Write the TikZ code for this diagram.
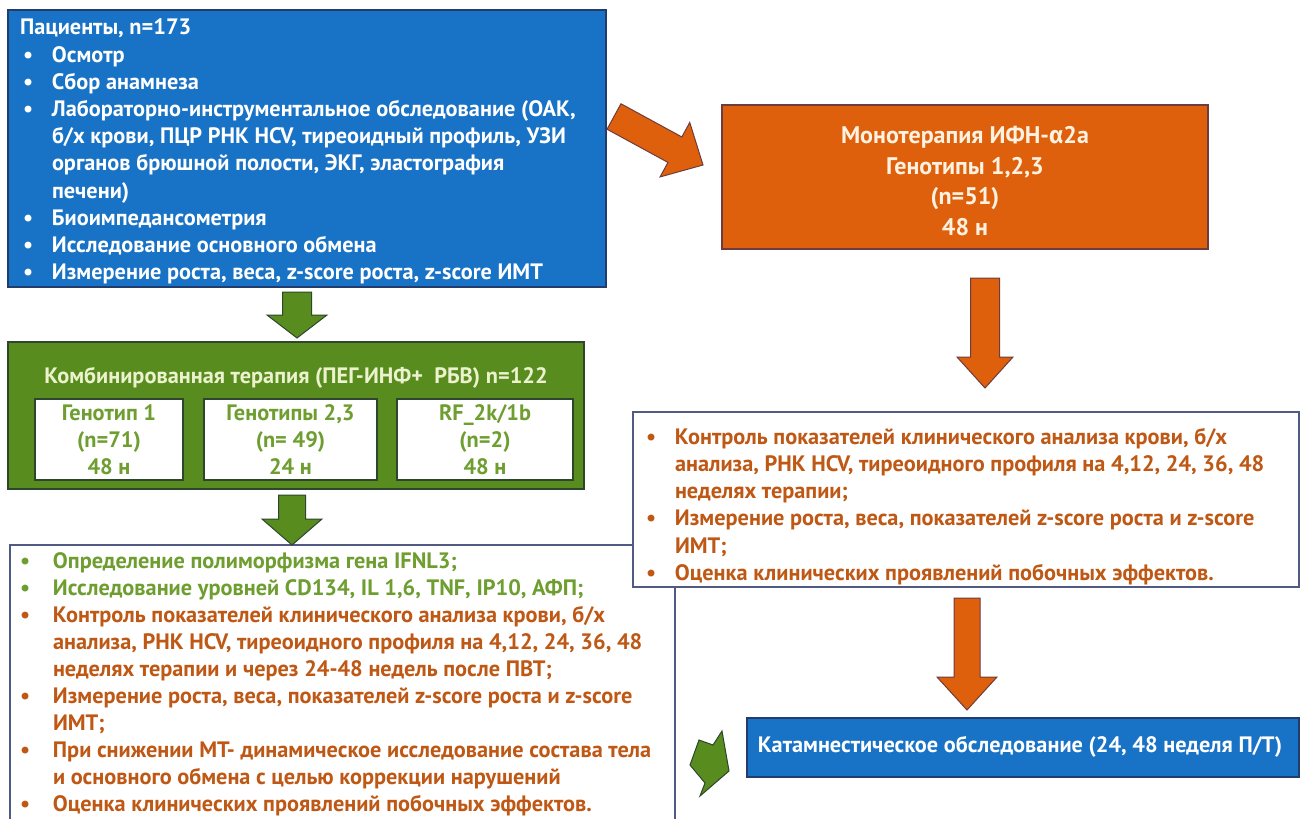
\documentclass[tikz,border=0pt]{standalone}
\usepackage{fontspec}
\setmainfont{PT Sans}
\newfontfamily\grk{Fira Sans}
\usetikzlibrary{calc}
\definecolor{cblue}{RGB}{24,114,198}
\definecolor{cblueline}{RGB}{35,60,110}
\definecolor{corange}{RGB}{222,96,12}
\definecolor{corangeline}{RGB}{110,60,60}
\definecolor{cgreen}{RGB}{88,140,30}
\definecolor{cgreenline}{RGB}{45,70,45}
\definecolor{cpale}{RGB}{236,242,205}
\definecolor{cgtext}{RGB}{110,158,48}
\definecolor{cotext}{RGB}{190,88,20}
\definecolor{cbox}{RGB}{80,90,130}
\definecolor{ccream}{RGB}{255,242,225}
\newcommand\bl[2]{\makebox[#1][l]{\hspace{3pt}•}#2}
\newcommand\cl[2]{\hspace*{#1}#2}
\newcommand\blockarrow[6]{%
  \coordinate (baN) at ($(#3)!#6!(#2)$);
  \draw[#1] ($(#2)!#4!90:(#3)$) -- ($(baN)!#4!90:(#3)$) -- ($(baN)!#5!90:(#3)$)
    -- (#3) -- ($(baN)!#5!-90:(#3)$) -- ($(baN)!#4!-90:(#3)$) -- ($(#2)!#4!-90:(#3)$) -- cycle;}
\begin{document}
\begin{tikzpicture}[x=1pt,y=-1pt,
  every node/.style={inner sep=0pt,outer sep=0pt},
  txt/.style={font=\fontsize{22.3}{27.2}\selectfont\bfseries, align=left, anchor=north west},
  ctxt/.style={font=\fontsize{22.3}{27.2}\selectfont\bfseries, align=center},
  bluebox/.style={draw=cblueline, fill=cblue, line width=1.5pt, anchor=north west},
  orangebox/.style={draw=corangeline, fill=corange, line width=1.5pt, anchor=north west},
  greenbox/.style={draw=cgreenline, fill=cgreen, line width=1.5pt, anchor=north west},
  whitebox/.style={draw=cbox, fill=white, line width=1.3pt, anchor=north west},
  subbox/.style={draw=cgreenline, fill=white, line width=1.5pt, anchor=north west},
  garrow/.style={fill=cgreen, draw=cgreenline, line width=1pt, line join=miter},
  oarrow/.style={fill=corange, draw=corangeline, line width=1pt, line join=miter}]
\clip (0,0) rectangle (1304,819);
\fill[white] (0,0) rectangle (1304,819);

% top-left patients box
\node[bluebox, minimum width=598pt, minimum height=277pt] (pat) at (8,10) {};
\node[txt, text=white] (patT) at (20,19) {Пациенты, n=173\\
\bl{32pt}{Осмотр}\\
\bl{32pt}{Сбор анамнеза}\\
\bl{32pt}{Лабораторно-инструментальное обследование (ОАК,}\\
\cl{32pt}{б/х крови, ПЦР РНК HCV, тиреоидный профиль, УЗИ}\\
\cl{32pt}{органов брюшной полости, ЭКГ, эластография}\\
\cl{32pt}{печени)}\\
\bl{32pt}{Биоимпедансометрия}\\
\bl{32pt}{Исследование основного обмена}\\
\bl{32pt}{Измерение роста, веса, z-score роста, z-score ИМТ}};

% monotherapy box
\node[orangebox, minimum width=486pt, minimum height=144pt] (mono) at (722,105) {};
\node[ctxt, text=ccream, font=\fontsize{24}{30.5}\selectfont\bfseries] (monoT) at (965,181)
  {Монотерапия ИФН-{\grk α}2a\\Генотипы 1,2,3\\(n=51)\\48 н};

% combined therapy box
\node[greenbox, minimum width=576pt, minimum height=147pt] (comb) at (8,342) {};
\node[ctxt, text=cpale] (combT) at (296,378) {Комбинированная терапия (ПЕГ-ИНФ+~~РБВ) n=122};
\node[subbox, minimum width=148pt, minimum height=81pt, ctxt, text=cgtext] (g1) at (35,399)
  {Генотип 1\\(n=71)\\48 н};
\node[subbox, minimum width=173pt, minimum height=81pt, ctxt, text=cgtext] (g23) at (204,399)
  {Генотипы 2,3\\(n= 49)\\24 н};
\node[subbox, minimum width=176pt, minimum height=81pt, ctxt, text=cgtext] (grf) at (397,399)
  {RF\_2k/1b\\(n=2)\\48 н};

% bottom-left box
\node[whitebox, minimum width=665pt, minimum height=300pt] (cmb) at (10,545) {};
\node[txt, font=\fontsize{22.3}{26.9}\selectfont\bfseries] (cmbT) at (17,553) {\color{cgtext}\bl{36pt}{Определение полиморфизма гена IFNL3;}\\
\color{cgtext}\bl{36pt}{Исследование уровней CD134, IL 1,6, TNF, IP10, АФП;}\\
\color{cotext}\bl{36pt}{Контроль показателей клинического анализа крови, б/х}\\
\color{cotext}\cl{36pt}{анализа, РНК HCV, тиреоидного профиля на 4,12, 24, 36, 48}\\
\color{cotext}\cl{36pt}{неделях терапии и через 24-48 недель после ПВТ;}\\
\color{cotext}\bl{36pt}{Измерение роста, веса, показателей z-score роста и z-score}\\
\color{cotext}\cl{36pt}{ИМТ;}\\
\color{cotext}\bl{36pt}{При снижении МТ- динамическое исследование состава тела}\\
\color{cotext}\cl{36pt}{и основного обмена с целью коррекции нарушений}\\
\color{cotext}\bl{36pt}{Оценка клинических проявлений побочных эффектов.}};

% right monitoring box
\node[whitebox, minimum width=666pt, minimum height=175pt] (mon) at (633,412) {};
\node[txt, text=cotext] (monT) at (643,428) {\bl{32pt}{Контроль показателей клинического анализа крови, б/х}\\
\cl{32pt}{анализа, РНК HCV, тиреоидного профиля на 4,12, 24, 36, 48}\\
\cl{32pt}{неделях терапии;}\\
\bl{32pt}{Измерение роста, веса, показателей z-score роста и z-score}\\
\cl{32pt}{ИМТ;}\\
\bl{32pt}{Оценка клинических проявлений побочных эффектов.}};

% catamnesis box
\node[bluebox, minimum width=552pt, minimum height=59pt] (cat) at (747,718) {};
\node[ctxt, text=white] (catT) at (1020,747) {Катамнестическое обследование (24, 48 неделя П/Т)};

% block arrows
\coordinate (g1s) at (297,292); \coordinate (g1t) at (297,338);
\coordinate (g2s) at (292,495); \coordinate (g2t) at (292,545);
\coordinate (o1s) at (985,278); \coordinate (o1t) at (985,388);
\coordinate (o2s) at (967,598); \coordinate (o2t) at (967,710);
\coordinate (ods) at (614,116.5); \coordinate (odt) at (703,165);
\blockarrow{garrow}{g1s}{g1t}{14.5pt}{30pt}{23pt}
\blockarrow{garrow}{g2s}{g2t}{13.5pt}{30pt}{26pt}
\blockarrow{oarrow}{o1s}{o1t}{14.5pt}{28pt}{31pt}
\blockarrow{oarrow}{o2s}{o2t}{13pt}{30pt}{33pt}
\blockarrow{oarrow}{ods}{odt}{14.5pt}{31pt}{32pt}
% small green arrow
\draw[garrow] (699,740) -- (713,745) -- (722,731) -- (729,771) -- (700,796) -- (705,783) -- (690,765) -- cycle;
\end{tikzpicture}
\end{document}
